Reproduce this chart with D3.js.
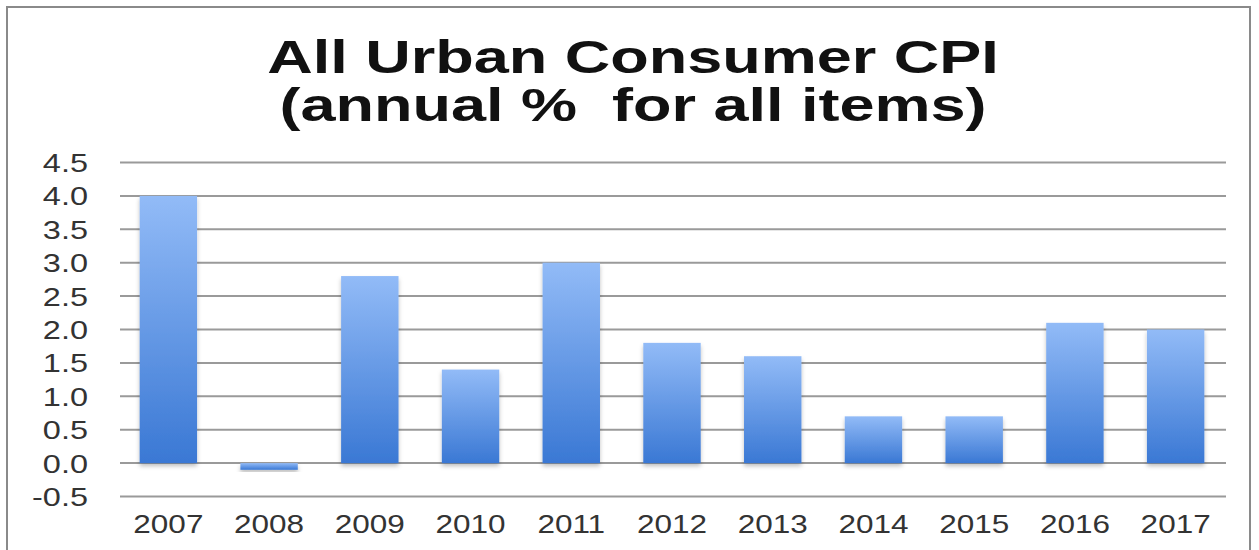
<!DOCTYPE html>
<html><head><meta charset="utf-8">
<script src="https://cdn.jsdelivr.net/npm/d3@7"></script>
<style>body{margin:0;background:#fff;}svg{display:block;font-family:"Liberation Sans",Arial,sans-serif;}</style>
</head><body>
<svg id="c" width="1259" height="550"></svg>
<script>
const categories = ["2007","2008","2009","2010","2011","2012","2013","2014","2015","2016","2017"];
const values = [4.0, -0.1, 2.8, 1.4, 3.0, 1.8, 1.6, 0.7, 0.7, 2.1, 2.0];
const tickValues = [-0.5,0,0.5,1,1.5,2,2.5,3,3.5,4,4.5];
const titleLines = ["All Urban Consumer CPI","(annual %  for all items)"];

const svg = d3.select("#c");
const m = {left:118, right:1226, top:162.5, bottom:496.5};
const SX = 1.3; // horizontal stretch of the reference's text

// frame
svg.append("rect").attr("x",7).attr("y",7).attr("width",1243).attr("height",560)
  .attr("fill","#fff").attr("stroke","#8a8a8a").attr("stroke-width",2);

const defs = svg.append("defs");
const g = defs.append("linearGradient").attr("id","bg").attr("x1",0).attr("y1",0).attr("x2",0).attr("y2",1);
g.append("stop").attr("offset","0%").attr("stop-color","#92bbf7");
g.append("stop").attr("offset","100%").attr("stop-color","#3a78d4");
const f = defs.append("filter").attr("id","sh").attr("x","-20%").attr("y","-20%").attr("width","140%").attr("height","140%");
f.append("feDropShadow").attr("dx",0).attr("dy",3).attr("stdDeviation",2).attr("flood-color","#000").attr("flood-opacity",0.25);

const x = d3.scaleBand().domain(categories).range([m.left, m.right]).paddingInner(0.43).paddingOuter(0.215);
const y = d3.scaleLinear().domain([-0.5,4.5]).range([m.bottom, m.top]);

// gridlines
svg.append("g").selectAll("line").data(tickValues).join("line")
  .attr("x1",m.left+2).attr("x2",m.right)
  .attr("y1",d=>y(d)).attr("y2",d=>y(d))
  .attr("stroke","#9a9a9a").attr("stroke-width",2);

// y axis labels
const fmt = d3.format(".1f");
const ya = svg.append("g").attr("transform",`translate(${m.left-30},0)`)
  .call(d3.axisLeft(y).tickValues(tickValues).tickSize(0).tickPadding(0)
    .tickFormat(d=>fmt(d).replace("\u2212","-")));
ya.select(".domain").remove();
ya.selectAll("text").attr("x",0).attr("font-size",25).attr("fill","#333")
  .attr("font-family","Liberation Sans, Arial, sans-serif").attr("dy","0.36em")
  .attr("transform",`scale(${SX},1)`);

// bars
svg.append("g").selectAll("rect").data(values).join("rect")
  .attr("x",(d,i)=>x(categories[i]))
  .attr("width",x.bandwidth())
  .attr("y",d=>y(Math.max(0,d)))
  .attr("height",d=>Math.abs(y(d)-y(0)))
  .attr("fill","url(#bg)")
  .attr("filter","url(#sh)");

// x axis labels
const xa = svg.append("g").attr("transform",`translate(0,${m.bottom+18})`)
  .call(d3.axisBottom(x).tickSize(0).tickPadding(0));
xa.select(".domain").remove();
xa.selectAll("text").attr("y",0).attr("font-size",25).attr("fill","#333")
  .attr("font-family","Liberation Sans, Arial, sans-serif").attr("dy","0.72em")
  .attr("transform","scale(1.26,1)");

// title
svg.append("g").selectAll("text").data(titleLines).join("text")
  .attr("transform",(d,i)=>`translate(633,${73+i*48}) scale(1.37,1)`)
  .attr("text-anchor","middle").attr("font-size",46).attr("font-weight","bold")
  .attr("fill","#111")
  .style("white-space","pre")
  .text(d=>d);
</script>
</body></html>
